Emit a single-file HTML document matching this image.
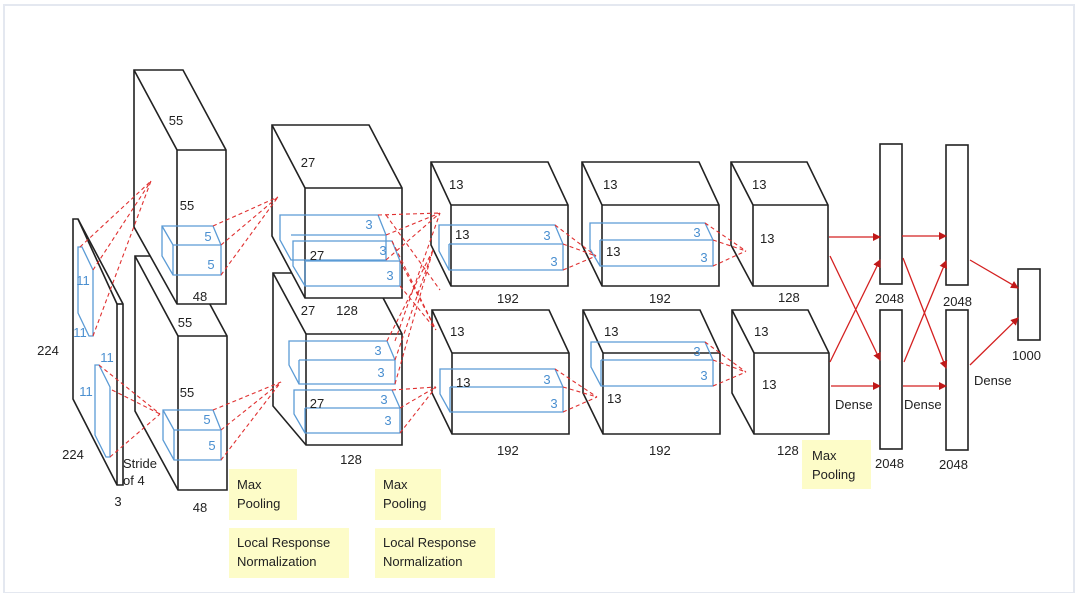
<!DOCTYPE html>
<html><head><meta charset="utf-8"><style>
html,body{margin:0;padding:0;background:#fff;}
svg{display:block;font-family:"Liberation Sans",sans-serif;}
.k{fill:#fff;stroke:#222;stroke-width:1.6;}
.l{fill:none;stroke:#222;stroke-width:1.6;}
.b{fill:none;stroke:#5b9bd5;stroke-width:1.3;}
.r{stroke:#e03030;stroke-width:1.1;stroke-dasharray:4,3;fill:none;}
.a{stroke:#d42020;stroke-width:1.3;fill:none;marker-end:url(#ar);}
text{font-size:13px;fill:#222;}
.c{text-anchor:middle;}
.bt{fill:#4a8fd0;text-anchor:middle;}
.y{fill:#fdfcc8;}
</style></head><body>
<svg width="1080" height="593" viewBox="0 0 1080 593">
<defs><marker id="ar" markerWidth="8" markerHeight="8" refX="7" refY="4" orient="auto" markerUnits="userSpaceOnUse"><path d="M0,0 L8,4 L0,8z" fill="#c01818"/></marker></defs>
<rect x="4" y="5" width="1070" height="588" fill="#fff" stroke="#e4e8f0" stroke-width="2"/>

<!-- input -->
<polygon class="k" points="73,219 78,219 123,304 123,485 117,485 73,399"/>
<line class="l" x1="117" y1="304" x2="117" y2="485"/>
<line class="l" x1="78" y1="219" x2="117" y2="304"/>
<line class="l" x1="117" y1="304" x2="123" y2="304"/>
<polygon class="b" points="78,247 82,247 93,270 93,336 89,336 78,313"/>
<polygon class="b" points="95,365 99,365 110,387 110,457 106,457 95,435"/>
<text class="bt" x="83" y="285">11</text><text class="bt" x="80" y="337">11</text>
<text class="bt" x="107" y="362">11</text><text class="bt" x="86" y="396">11</text>
<text class="c" x="48" y="355">224</text><text class="c" x="73" y="459">224</text><text class="c" x="118" y="506">3</text>
<text x="123" y="468">Stride</text><text x="123" y="485">of 4</text>

<!-- conv1 (bottom first) -->
<polygon class="k" points="135,256 184,256 227,336 227,490 178,490 135,411"/>
<polyline class="l" points="135,256 178,336 178,490"/><line class="l" x1="178" y1="336" x2="227" y2="336"/>
<polygon class="k" points="134,70 183,70 226,150 226,304 177,304 134,227"/>
<polyline class="l" points="134,70 177,150 177,304"/><line class="l" x1="177" y1="150" x2="226" y2="150"/>
<polygon class="b" points="162,226 213,226 221,245 221,275 173,275 162,256"/><polyline class="b" points="162,226 173,245 221,245"/><line class="b" x1="173" y1="245" x2="173" y2="275"/>
<polygon class="b" points="163,410 213,410 221,430 221,460 174,460 163,440"/><polyline class="b" points="163,410 174,430 221,430"/><line class="b" x1="174" y1="430" x2="174" y2="460"/>
<text class="c" x="176" y="125">55</text><text class="c" x="187" y="210">55</text><text class="c" x="200" y="301">48</text>
<text class="c" x="185" y="327">55</text><text class="c" x="187" y="397">55</text><text class="c" x="200" y="512">48</text>
<text class="bt" x="208" y="241">5</text><text class="bt" x="211" y="269">5</text>
<text class="bt" x="207" y="424">5</text><text class="bt" x="212" y="450">5</text>

<!-- conv2 (bottom first) -->
<polygon class="k" points="273,273 370,273 402,334 402,445 306,445 273,406"/>
<polyline class="l" points="273,273 306,334 306,445"/><line class="l" x1="306" y1="334" x2="402" y2="334"/>
<polygon class="k" points="272,125 369,125 402,188 402,298 305,298 272,236"/>
<polyline class="l" points="272,125 305,188 305,298"/><line class="l" x1="305" y1="188" x2="402" y2="188"/>
<polygon class="b" points="280,215 378,215 386,235 386,260 291,260 280,240"/><line class="b" x1="291" y1="235" x2="386" y2="235"/>
<polygon class="b" points="293,241 392,241 400,261 400,286 305,286 293,266"/><line class="b" x1="305" y1="261" x2="400" y2="261"/><line class="b" x1="305" y1="261" x2="305" y2="286"/>
<polygon class="b" points="289,341 387,341 395,360 395,384 299,384 289,365"/><line class="b" x1="299" y1="360" x2="395" y2="360"/><line class="b" x1="299" y1="360" x2="299" y2="384"/>
<polygon class="b" points="294,390 392,390 400,408 400,433 305,433 294,414"/><line class="b" x1="305" y1="408" x2="400" y2="408"/><line class="b" x1="305" y1="408" x2="305" y2="433"/>
<text class="c" x="308" y="167">27</text><text class="c" x="317" y="260">27</text><text class="c" x="308" y="315">27</text><text class="c" x="347" y="315">128</text>
<text class="c" x="317" y="408">27</text><text class="c" x="351" y="464">128</text>
<text class="bt" x="369" y="229">3</text><text class="bt" x="383" y="255">3</text><text class="bt" x="390" y="280">3</text>
<text class="bt" x="378" y="355">3</text><text class="bt" x="381" y="377">3</text><text class="bt" x="384" y="404">3</text><text class="bt" x="388" y="425">3</text>

<!-- 13 blocks -->
<g id="blk">
<polygon class="k" points="431,162 548,162 568,205 568,286 451,286 431,245"/><polyline class="l" points="431,162 451,205 451,286"/><line class="l" x1="451" y1="205" x2="568" y2="205"/>
<polygon class="k" points="582,162 699,162 719,205 719,286 602,286 582,245"/><polyline class="l" points="582,162 602,205 602,286"/><line class="l" x1="602" y1="205" x2="719" y2="205"/>
<polygon class="k" points="731,162 807,162 828,205 828,286 753,286 731,245"/><polyline class="l" points="731,162 753,205 753,286"/><line class="l" x1="753" y1="205" x2="828" y2="205"/>
</g>
<use href="#blk" transform="translate(1,148)"/>
<polygon class="b" points="439,225 555,225 563,244 563,270 449,270 439,251"/><line class="b" x1="449" y1="244" x2="563" y2="244"/><line class="b" x1="449" y1="244" x2="449" y2="270"/>
<polygon class="b" points="440,369 555,369 563,387 563,412 450,412 440,394"/><line class="b" x1="450" y1="387" x2="563" y2="387"/><line class="b" x1="450" y1="387" x2="450" y2="412"/>
<polygon class="b" points="590,223 705,223 713,240 713,266 600,266 590,249"/><line class="b" x1="600" y1="240" x2="713" y2="240"/><line class="b" x1="600" y1="240" x2="600" y2="266"/>
<polygon class="b" points="591,342 705,342 713,360 713,386 601,386 591,367"/><line class="b" x1="601" y1="360" x2="713" y2="360"/><line class="b" x1="601" y1="360" x2="601" y2="386"/>
<text x="449" y="189">13</text><text x="455" y="239">13</text><text x="497" y="303">192</text>
<text x="603" y="189">13</text><text x="606" y="256">13</text><text x="649" y="303">192</text>
<text x="752" y="189">13</text><text x="760" y="243">13</text><text x="778" y="302">128</text>
<text x="450" y="336">13</text><text x="456" y="387">13</text><text x="497" y="455">192</text>
<text x="604" y="336">13</text><text x="607" y="403">13</text><text x="649" y="455">192</text>
<text x="754" y="336">13</text><text x="762" y="389">13</text><text x="777" y="455">128</text>
<text class="bt" x="547" y="240">3</text><text class="bt" x="554" y="266">3</text>
<text class="bt" x="697" y="237">3</text><text class="bt" x="704" y="262">3</text>
<text class="bt" x="547" y="384">3</text><text class="bt" x="554" y="408">3</text>
<text class="bt" x="697" y="356">3</text><text class="bt" x="704" y="380">3</text>

<!-- dense -->
<rect class="k" x="880" y="144" width="22" height="140"/><rect class="k" x="880" y="310" width="22" height="139"/>
<rect class="k" x="946" y="145" width="22" height="140"/><rect class="k" x="946" y="310" width="22" height="140"/>
<rect class="k" x="1018" y="269" width="22" height="71"/>
<text x="875" y="303">2048</text><text x="943" y="306">2048</text><text x="875" y="468">2048</text><text x="939" y="469">2048</text><text x="1012" y="360">1000</text>
<text x="835" y="409">Dense</text><text x="904" y="409">Dense</text><text x="974" y="385">Dense</text>
<line class="a" x1="829" y1="237" x2="880" y2="237"/><line class="a" x1="830" y1="256" x2="880" y2="360"/>
<line class="a" x1="830" y1="362" x2="880" y2="260"/><line class="a" x1="831" y1="386" x2="880" y2="386"/>
<line class="a" x1="902" y1="236" x2="946" y2="236"/><line class="a" x1="903" y1="258" x2="946" y2="368"/>
<line class="a" x1="904" y1="362" x2="946" y2="261"/><line class="a" x1="903" y1="386" x2="946" y2="386"/>
<line class="a" x1="970" y1="260" x2="1018" y2="288"/><line class="a" x1="970" y1="365" x2="1018" y2="318"/>

<!-- red dashed -->
<g class="r">
<path d="M80,247 L151,181 M93,270 L151,181 M93,336 L151,181 M99,365 L160,414 M112,390 L160,414 M110,457 L160,414"/>
<path d="M213,226 L278,197 M221,245 L278,197 M221,275 L278,197 M213,410 L281,382 M221,430 L281,382 M221,460 L281,382"/>
<path d="M378,215 L440,213 M386,235 L440,213 M386,260 L440,213 M392,241 L436,330 M400,261 L436,330 M400,286 L436,330"/>
<path d="M387,341 L433,250 M395,360 L433,250 M395,384 L433,250 M392,390 L436,387 M400,408 L436,387 M400,433 L436,387"/>
<path d="M386,215 L440,290 M395,341 L440,213"/>
<path d="M555,225 L596,256 M563,244 L596,256 M563,270 L596,256 M555,369 L597,397 M563,387 L597,397 M563,412 L597,397"/>
<path d="M705,223 L746,251 M713,240 L746,251 M713,266 L746,251 M705,342 L746,372 M713,360 L746,372 M713,386 L746,372"/>
</g>

<!-- yellow notes -->
<rect class="y" x="229" y="469" width="68" height="51"/><text x="237" y="489">Max</text><text x="237" y="508">Pooling</text>
<rect class="y" x="229" y="528" width="120" height="50"/><text x="237" y="547">Local Response</text><text x="237" y="566">Normalization</text>
<rect class="y" x="375" y="469" width="66" height="51"/><text x="383" y="489">Max</text><text x="383" y="508">Pooling</text>
<rect class="y" x="375" y="528" width="120" height="50"/><text x="383" y="547">Local Response</text><text x="383" y="566">Normalization</text>
<rect class="y" x="802" y="440" width="69" height="49"/><text x="812" y="460">Max</text><text x="812" y="479">Pooling</text>
</svg>
</body></html>
